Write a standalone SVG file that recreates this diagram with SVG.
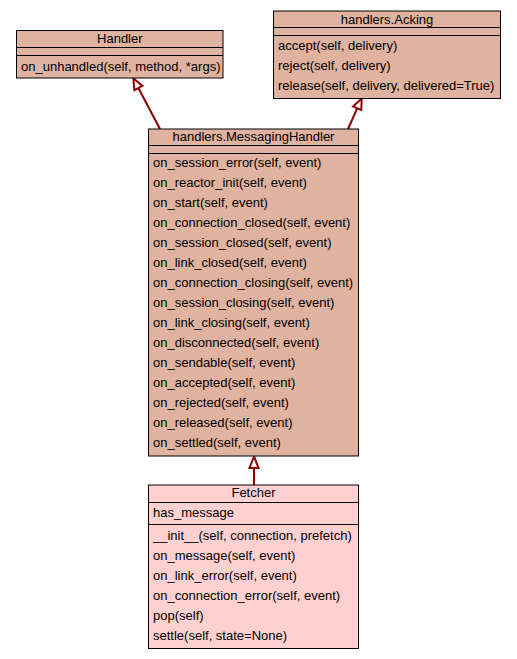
<svg xmlns="http://www.w3.org/2000/svg" width="517" height="659" viewBox="0 0 517 659">
<style>
.box{fill:#e0b2a0;stroke:#000;stroke-width:1}
.fbox{fill:#ffd0d0;stroke:#000;stroke-width:1}
.sep{stroke:#000;stroke-width:1}
text{font-family:"Liberation Sans",Arial,Helvetica,sans-serif;font-size:13px;fill:#000}
.t{text-anchor:middle}
.edge{stroke:#8b0000;stroke-width:2;fill:none}
.head{stroke:#8b0000;stroke-width:2;fill:#fff}
</style>
<rect width="517" height="659" fill="#fff"/>
<g id="edges">
<line class="edge" x1="160" y1="129" x2="138.4" y2="88"/>
<polygon class="head" points="133.3,78.3 134.4,90.1 142.4,85.9"/>
<line class="edge" x1="348" y1="129" x2="357.2" y2="108.3"/>
<polygon class="head" points="361.7,98.3 361.3,110.1 353.1,106.5"/>
<line class="edge" x1="254" y1="485" x2="254" y2="468"/>
<polygon class="head" points="254,456.5 249.5,468 258.5,468"/>
</g>
<g id="Handler">
<rect class="box" x="16.5" y="30.5" width="206.5" height="47.5"/>
<line class="sep" x1="16.5" y1="47.5" x2="223" y2="47.5"/>
<line class="sep" x1="16.5" y1="55.5" x2="223" y2="55.5"/>
<text class="t" x="119.8" y="43">Handler</text>
<text x="21" y="71">on_unhandled(self, method, *args)</text>
</g>
<g id="Acking">
<rect class="box" x="273.5" y="11" width="227" height="87.5"/>
<line class="sep" x1="273.5" y1="27.5" x2="500.5" y2="27.5"/>
<line class="sep" x1="273.5" y1="35.5" x2="500.5" y2="35.5"/>
<text class="t" x="387" y="23.5">handlers.Acking</text>
<text x="278" y="50">accept(self, delivery)</text>
<text x="278" y="70">reject(self, delivery)</text>
<text x="278" y="90">release(self, delivery, delivered=True)</text>
</g>
<g id="MessagingHandler">
<rect class="box" x="148.5" y="129" width="210" height="327"/>
<line class="sep" x1="148.5" y1="145.5" x2="358.5" y2="145.5"/>
<line class="sep" x1="148.5" y1="153.5" x2="358.5" y2="153.5"/>
<text class="t" x="253.5" y="141">handlers.MessagingHandler</text>
<text x="153" y="167">on_session_error(self, event)</text>
<text x="153" y="187">on_reactor_init(self, event)</text>
<text x="153" y="207">on_start(self, event)</text>
<text x="153" y="227">on_connection_closed(self, event)</text>
<text x="153" y="247">on_session_closed(self, event)</text>
<text x="153" y="267">on_link_closed(self, event)</text>
<text x="153" y="287">on_connection_closing(self, event)</text>
<text x="153" y="307">on_session_closing(self, event)</text>
<text x="153" y="327">on_link_closing(self, event)</text>
<text x="153" y="347">on_disconnected(self, event)</text>
<text x="153" y="367">on_sendable(self, event)</text>
<text x="153" y="387">on_accepted(self, event)</text>
<text x="153" y="407">on_rejected(self, event)</text>
<text x="153" y="427">on_released(self, event)</text>
<text x="153" y="447">on_settled(self, event)</text>
</g>
<g id="Fetcher">
<rect class="fbox" x="148.5" y="485" width="210" height="163.5"/>
<line class="sep" x1="148.5" y1="502.5" x2="358.5" y2="502.5"/>
<line class="sep" x1="148.5" y1="524.5" x2="358.5" y2="524.5"/>
<text class="t" x="253.5" y="497">Fetcher</text>
<text x="153" y="517">has_message</text>
<text x="153" y="540">__init__(self, connection, prefetch)</text>
<text x="153" y="560">on_message(self, event)</text>
<text x="153" y="580">on_link_error(self, event)</text>
<text x="153" y="600">on_connection_error(self, event)</text>
<text x="153" y="620">pop(self)</text>
<text x="153" y="640">settle(self, state=None)</text>
</g>
</svg>
